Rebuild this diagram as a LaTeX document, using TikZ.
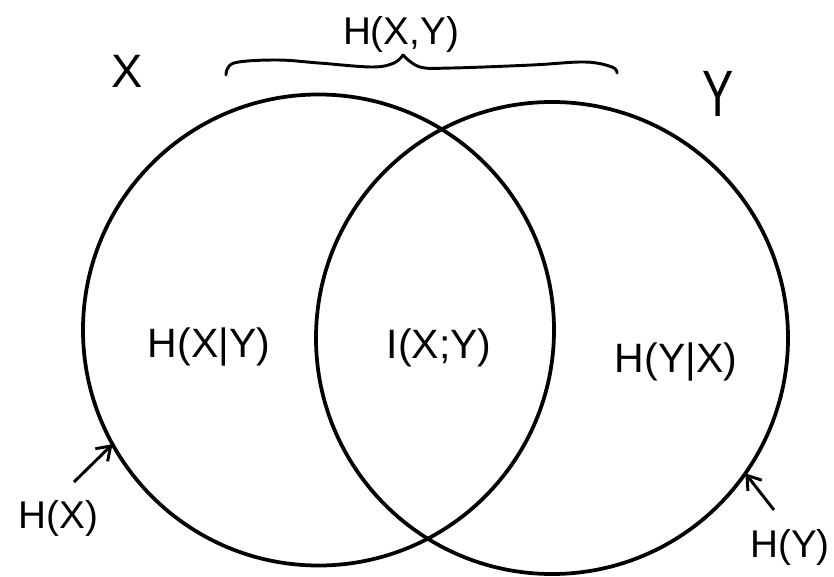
\documentclass[tikz,border=0pt]{standalone}
\usepackage{fontspec}
\setmainfont{Liberation Sans}
\usetikzlibrary{arrows.meta}
\begin{document}
\begin{tikzpicture}[x=0.03cm,y=0.03cm,
  ring/.style={draw=black, circle, line width=3.2pt, inner sep=0pt, outer sep=0pt},
  lbl/.style={font=\fontsize{33pt}{36pt}\selectfont, inner sep=0pt, anchor=base},
  pointer/.style={line width=2.5pt, -{Straight Barb[length=11pt,width=15pt,line width=2.5pt]}},
  bracestroke/.style={line width=2.5pt, line cap=round, line join=round}]
\clip (0,0) rectangle (834,576);
\fill[white] (0,0) rectangle (834,576);
% circles
\node[ring, minimum size=14.13cm] (cx) at (318.5,246) {};
\node[ring, minimum size=14.16cm] (cy) at (552,238) {};
% set labels
\node[lbl, font=\fontsize{40pt}{44pt}\selectfont] (lx) at (127,488) {X};
\node[lbl, font=\fontsize{40pt}{44pt}\selectfont] (ly) at (718,459) {\scalebox{1}[1.4]{Y}};
% brace
\draw[bracestroke] plot[smooth, tension=0.6] coordinates {(226,501) (234,513) (277,516) (319,513) (372,509) (394,513) (403,521)};
\draw[bracestroke] plot[smooth, tension=0.6] coordinates {(403,521) (420,509) (452,508) (532,511) (585,514) (612,509) (617,503)};
\node[lbl] (hxy) at (401,531) {H(X,Y)};
% region labels
\node[lbl, font=\fontsize{35pt}{38pt}\selectfont] (hxgy) at (209,219) {H(X|Y)};
\node[lbl, font=\fontsize{35pt}{38pt}\selectfont] (ixy) at (439,218) {I(X;Y)};
\node[lbl, font=\fontsize{35pt}{38pt}\selectfont] (hygx) at (676,204) {H(Y|X)};
% entropy labels with pointers
\node[lbl] (hx) at (58.5,48) {H(X)};
\node[lbl, anchor=base east] (hy) at (830,19) {H(Y)};
\coordinate (hxtail) at (74,94);
\coordinate (hytail) at (774,66);
\draw[pointer] (hxtail) -- (cx.209);
\draw[pointer] (hytail) -- (cy.325);
\end{tikzpicture}
\end{document}
